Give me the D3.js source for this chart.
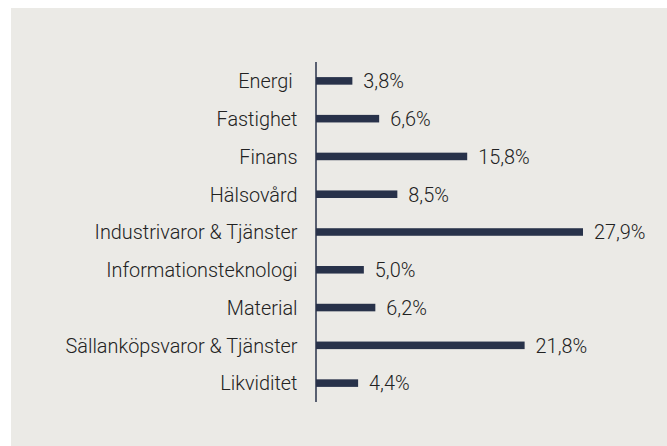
<!DOCTYPE html>
<html>
<head>
<meta charset="utf-8">
<script src="https://cdn.jsdelivr.net/npm/d3@7"></script>
<style>
  body { margin: 0; background: #ffffff; }
  text { font-family: Roboto, "Open Sans", sans-serif; font-weight: 300; fill: #222222; white-space: pre; }
</style>
</head>
<body>
<div id="chart"></div>
<script>
// sectors and their weights (%)
var sectors = ["Energi ", "Fastighet", "Finans", "Hälsovård", "Industrivaror & Tjänster",
    "Informationsteknologi", "Material", "Sällanköpsvaror & Tjänster", "Likviditet"];
var weights = [3.8, 6.6, 15.8, 8.5, 27.9, 5.0, 6.2, 21.8, 4.4];
var valueLabels = ["3,8%", "6,6%", "15,8%", "8,5%", "27,9%", "5,0%", "6,2%", "21,8%", "4,4%"];

var width = 667, height = 446;
var margin = { top: 62, left: 316, bottom: 44 };
var squeeze = 0.945; // condensed look

var svg = d3.select('#chart').append('svg')
    .attr('width', width)
    .attr('height', height);

svg.append('rect')
    .attr('x', 11)
    .attr('y', 8)
    .attr('width', width - 11)
    .attr('height', height - 8)
    .attr('fill', '#ebeae6');

var x = d3.scaleLinear()
    .domain([0, 27.9])
    .range([margin.left, 583]);

var y = d3.scaleBand()
    .domain(sectors)
    .range([margin.top, height - margin.bottom])
    .paddingInner(0.8)
    .paddingOuter(0.4);

svg.selectAll('.bar')
    .data(sectors)
    .enter().append('rect')
    .attr('class', 'bar')
    .attr('x', x(0))
    .attr('y', function (d) { return y(d); })
    .attr('width', function (d, i) { return x(weights[i]) - x(0); })
    .attr('height', y.bandwidth())
    .attr('fill', '#28324a');

// category labels
svg.selectAll('.cat')
    .data(sectors)
    .enter().append('text')
    .attr('class', 'cat')
    .attr('x', 297.5)
    .attr('y', function (d) { return y(d) + y.bandwidth() / 2; })
    .attr('dy', '0.35em')
    .attr('text-anchor', 'end')
    .style('font-size', '21px')
    .text(function (d) { return d; });

// value labels
svg.selectAll('.val')
    .data(sectors)
    .enter().append('text')
    .attr('class', 'val')
    .attr('x', function (d, i) { return x(weights[i]) + 11; })
    .attr('y', function (d) { return y(d) + y.bandwidth() / 2; })
    .attr('dy', '0.35em')
    .style('font-size', '21px')
    .text(function (d, i) { return valueLabels[i]; });

svg.selectAll('text').each(function () {
    var len = this.getComputedTextLength();
    d3.select(this)
        .attr('textLength', len * squeeze)
        .attr('lengthAdjust', 'spacingAndGlyphs');
});

// vertical axis line
svg.append('line')
    .attr('x1', x(0))
    .attr('x2', x(0))
    .attr('y1', margin.top)
    .attr('y2', height - margin.bottom)
    .attr('stroke', '#28324a')
    .attr('stroke-width', 1.5);
</script>
</body>
</html>
